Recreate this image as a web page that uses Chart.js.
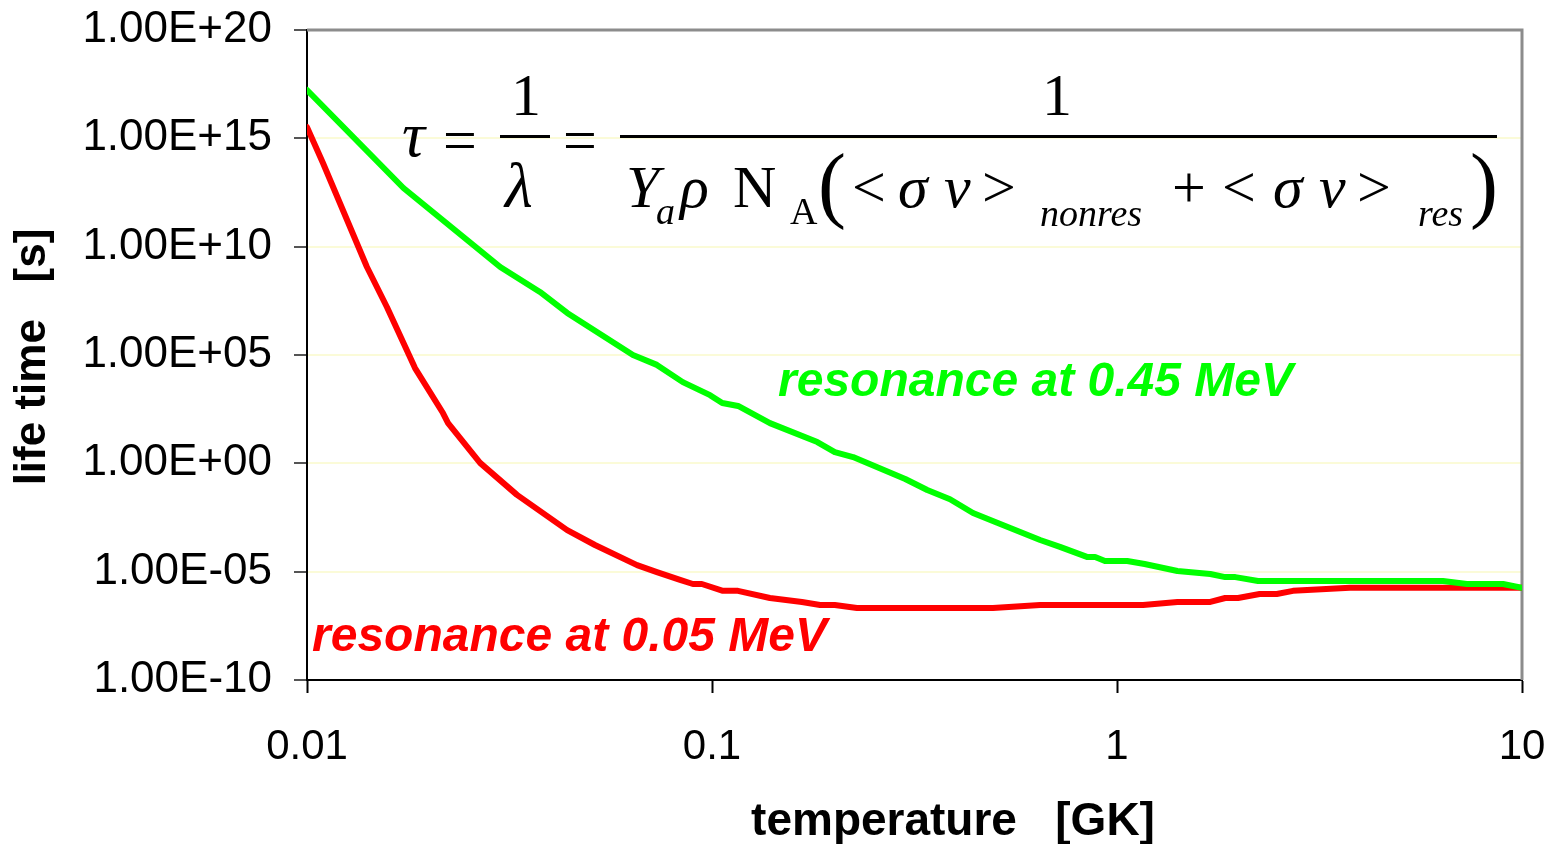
<!DOCTYPE html>
<html>
<head>
<meta charset="utf-8">
<script src="https://cdn.jsdelivr.net/npm/chart.js@4.4.1/dist/chart.umd.min.js"></script>
<style>
  body { margin: 0; background: #fff; }
  canvas { display: block; }
</style>
</head>
<body>
<canvas id="chart" width="1554" height="844"></canvas>
<script>
// temperature [GK] and life time [s]
const tempGreen = [0.01, 0.0173, 0.030, 0.0376, 0.0439, 0.0638, 0.0731, 0.0847, 0.0989, 0.106, 0.116, 0.139, 0.182, 0.201, 0.223, 0.300, 0.340, 0.387, 0.441, 0.506, 0.646, 0.723, 0.843, 0.883, 0.934, 1.06, 1.17, 1.41, 1.70, 1.85, 1.96, 2.23, 6.38, 7.31, 8.98, 10];
const lifeGreen = [1.7e17, 5.1e12, 1.15e9, 8.1e7, 8.7e6, 1.0e5, 3.5e4, 5.6e3, 1.4e3, 610, 445, 72, 9.6, 3.3, 1.95, 0.19, 0.059, 0.022, 5.1e-3, 1.8e-3, 2.9e-4, 1.4e-4, 4.8e-5, 4.8e-5, 3.1e-5, 3.1e-5, 2.25e-5, 1.07e-5, 7.8e-6, 5.6e-6, 5.6e-6, 3.7e-6, 3.7e-6, 2.7e-6, 2.7e-6, 1.8e-6];

const tempRed = [0.01, 0.01095, 0.01406, 0.01576, 0.01848, 0.02166, 0.0223, 0.02675, 0.033, 0.0439, 0.0514, 0.0653, 0.0731, 0.0834, 0.0897, 0.0944, 0.1064, 0.1159, 0.139, 0.1668, 0.1849, 0.201, 0.228, 0.494, 0.646, 1.16, 1.41, 1.70, 1.85, 1.99, 2.25, 2.48, 2.72, 3.76, 10];
const lifeRed = [3.3e15, 7.2e13, 1.15e9, 1.6e7, 2.5e4, 210, 72, 1.05, 0.035, 8.3e-4, 1.7e-4, 2.0e-5, 9.5e-6, 4.2e-6, 2.7e-6, 2.7e-6, 1.3e-6, 1.3e-6, 6.1e-7, 4.0e-7, 2.9e-7, 2.9e-7, 2.1e-7, 2.1e-7, 2.9e-7, 2.9e-7, 4.0e-7, 4.0e-7, 6.1e-7, 6.1e-7, 9.3e-7, 9.3e-7, 1.3e-6, 1.8e-6, 1.8e-6];

const xTicks = [0.01, 0.1, 1, 10];
const xTickLabels = ["0.01", "0.1", "1", "10"];
const yTicks = [1e-10, 1e-5, 1, 1e5, 1e10, 1e15, 1e20];
const yTickLabels = ["1.00E-10", "1.00E-05", "1.00E+00", "1.00E+05", "1.00E+10", "1.00E+15", "1.00E+20"];

const toPoints = (xs, ys) => xs.map((x, i) => ({ x: x, y: ys[i] }));

// frame, axis titles, curve labels and the formula
const decorations = {
  id: "decorations",
  beforeDatasetsDraw(chart) {
    const { ctx, chartArea: a } = chart;
    ctx.save();
    ctx.strokeStyle = "#8c8c8c";
    ctx.lineWidth = 3;
    ctx.beginPath();
    ctx.moveTo(a.left, a.top);
    ctx.lineTo(a.right, a.top);
    ctx.lineTo(a.right, a.bottom);
    ctx.stroke();
    ctx.restore();
  },
  afterDraw(chart) {
    const ctx = chart.ctx;
    ctx.save();
    ctx.fillStyle = "#000";
    ctx.textBaseline = "middle";
    ctx.textAlign = "center";
    ctx.font = "bold 46px 'Liberation Sans', Arial, sans-serif";
    ctx.fillText("temperature   [GK]", 953, 822);
    ctx.save();
    ctx.translate(33, 357);
    ctx.rotate(-Math.PI / 2);
    ctx.font = "bold 44px 'Liberation Sans', Arial, sans-serif";
    ctx.fillText("life time   [s]", 0, 0);
    ctx.restore();

    ctx.textAlign = "left";
    ctx.font = "italic bold 48px 'Liberation Sans', Arial, sans-serif";
    ctx.fillStyle = "#00ff00";
    ctx.fillText("resonance at 0.45 MeV", 778, 383);
    ctx.fillStyle = "#ff0000";
    ctx.fillText("resonance at 0.05 MeV", 312, 638);

    // formula
    ctx.fillStyle = "#000";
    ctx.textBaseline = "alphabetic";
    const serif = "'Liberation Serif', 'Times New Roman', serif";
    const big = "60px " + serif, bigI = "italic 60px " + serif;
    const sub = "italic 38px " + serif, subR = "38px " + serif;
    const put = (t, x, y, f) => { ctx.font = f; ctx.fillText(t, x, y); };
    put("\u03c4", 402, 156, "italic 64px " + serif);
    put("=", 443, 160, big);
    put("1", 511, 115, big);
    ctx.fillRect(500, 135, 50, 3);
    put("\u03bb", 505, 207, "italic 64px " + serif);
    put("=", 563, 160, big);
    ctx.textAlign = "center";
    put("1", 1057, 115, big);
    ctx.textAlign = "left";
    ctx.fillRect(620, 135, 877, 3);
    put("Y", 626, 207, bigI);
    put("a", 656, 224, sub);
    put("\u03c1", 680, 207, bigI);
    put("N", 733, 207, big);
    put("A", 790, 224, subR);
    put("(", 818, 212, "84px " + serif);
    put("<", 852, 207, big);
    put("\u03c3", 898, 207, bigI);
    put("v", 944, 207, bigI);
    put(">", 982, 207, big);
    put("nonres", 1040, 226, sub);
    put("+", 1172, 207, big);
    put("<", 1222, 207, big);
    put("\u03c3", 1273, 207, bigI);
    put("v", 1319, 207, bigI);
    put(">", 1357, 207, big);
    put("res", 1418, 226, sub);
    put(")", 1470, 212, "84px " + serif);
    ctx.restore();
  }
};

new Chart(document.getElementById("chart"), {
  type: "line",
  data: {
    datasets: [
      {
        label: "resonance at 0.45 MeV",
        data: toPoints(tempGreen, lifeGreen),
        borderColor: "#00ff00",
        borderWidth: 6,
        pointRadius: 0,
        borderCapStyle: "round",
        borderJoinStyle: "round",
      },
      {
        label: "resonance at 0.05 MeV",
        data: toPoints(tempRed, lifeRed),
        borderColor: "#ff0000",
        borderWidth: 6,
        pointRadius: 0,
        borderCapStyle: "round",
        borderJoinStyle: "round",
      },
    ],
  },
  options: {
    responsive: false,
    animation: false,
    devicePixelRatio: 1,
    layout: { padding: { top: 30, right: 32, left: 0, bottom: 0 } },
    plugins: {
      legend: { display: false },
      tooltip: { enabled: false },
    },
    scales: {
      x: {
        type: "logarithmic",
        min: 0.01,
        max: 10,
        afterBuildTicks: (s) => { s.ticks = xTicks.map((v) => ({ value: v })); },
        afterFit: (s) => { s.height = 164; s.paddingLeft = 0; s.paddingRight = 0; },
        border: { display: true, color: "#000", width: 2 },
        grid: { drawOnChartArea: false, tickLength: 13, tickColor: "#000", tickWidth: 2 },
        ticks: {
          color: "#000",
          padding: 29,
          maxRotation: 0,
          autoSkip: false,
          font: { family: "'Liberation Sans', Arial, sans-serif", size: 42 },
          callback: (v, i) => xTickLabels[i],
        },
      },
      y: {
        type: "logarithmic",
        min: 1e-10,
        max: 1e20,
        afterBuildTicks: (s) => { s.ticks = yTicks.map((v) => ({ value: v })); },
        afterFit: (s) => { s.width = 307; s.paddingTop = 0; s.paddingBottom = 0; },
        border: { display: true, color: "#000", width: 2 },
        grid: { color: "#fbfbd8", lineWidth: 2, tickLength: 13, tickColor: "#555", tickWidth: 2 },
        ticks: {
          color: "#000",
          padding: 22,
          autoSkip: false,
          font: { family: "'Liberation Sans', Arial, sans-serif", size: 44 },
          callback: (v, i) => yTickLabels[i],
        },
      },
    },
  },
  plugins: [decorations],
});
</script>
</body>
</html>
